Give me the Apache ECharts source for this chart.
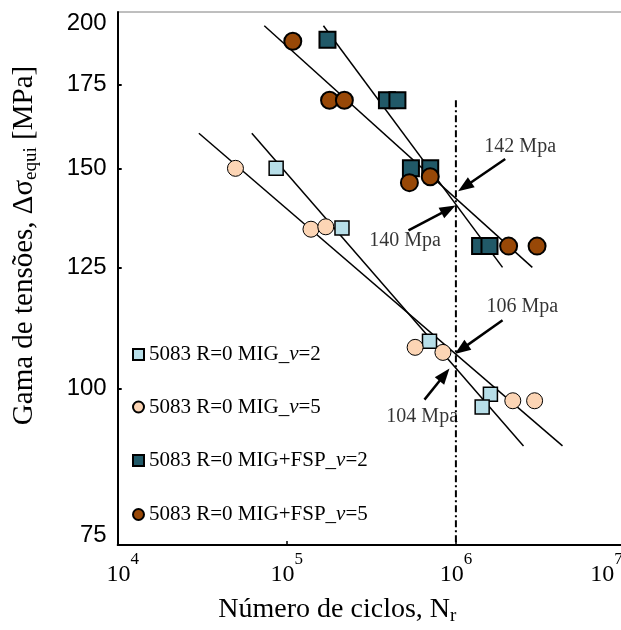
<!DOCTYPE html>
<html><head><meta charset="utf-8">
<script src="https://cdn.jsdelivr.net/npm/echarts@6/dist/echarts.min.js"></script>
<style>html,body{margin:0;padding:0;background:#fff;overflow:hidden}#c{width:625px;height:630px}</style>
</head><body><div id="c"></div><script>
// ---- data (cycles N, stress range MPa) ----
const seriesNames = ['5083 R=0 MIG_ν=2', '5083 R=0 MIG_ν=5', '5083 R=0 MIG+FSP_ν=2', '5083 R=0 MIG+FSP_ν=5'];
const migV2 = [[8.65e4,150],[2.12e5,134.4],[6.98e5,109.1],[1.60e6,99.0],[1.43e6,96.7]];
const migV5 = [[4.97e4,150],[1.39e5,134.1],[1.70e5,134.7],[5.74e5,107.9],[8.38e5,106.9],[2.17e6,97.8],[2.92e6,97.8]];
const fspV2 = [[1.74e5,190],[3.91e5,170],[4.51e5,170],[5.42e5,150],[7.05e5,150],[1.39e6,130],[1.58e6,130]];
const fspV5 = [[1.085e5,189.5],[1.79e5,170],[2.19e5,170],[5.31e5,146.1],[7.05e5,147.7],[2.05e6,130],[3.02e6,130]];
const migV2Fit = [[6.21e4,160],[2.51e6,90]];
const migV5Fit = [[3.02e4,160],[4.27e6,90]];
const fspV2Fit = [[1.647e5,195],[1.887e6,125]];
const fspV5Fit = [[7.36e4,195],[2.83e6,125]];
const refLine = [[1e6,170],[1e6,75]];
const xTicks = [1e4,1e5,1e6,1e7];
const yTicks = [75,100,125,150,175,200];
const yTickMarks = [100,125,150,175];
const annotLabels = ['142 Mpa','140 Mpa','106 Mpa','104 Mpa'];
const annotTextPos = [[2.40e6,156.0],[5.01e5,131.3],[2.47e6,116.2],[6.32e5,94.9]];
const arrowFrom = [[1.957e6,152.6],[5.243e5,133.8],[1.887e6,113.4],[6.52e5,98.0]];
const arrowTo = [[1.127e6,145.0],[9.04e5,139.1],[1.077e6,107.5],[8.56e5,102.6]];

const L = p => [Math.log10(p[0]), Math.log10(p[1])];
const SERIF = 'Liberation Serif';
const SANS = 'Liberation Sans';

const chart = echarts.init(document.getElementById('c'), null, {renderer:'canvas'});

function fitSeries(d){
  return {type:'line', data:d.map(L), symbol:'none', silent:true, z:2,
    lineStyle:{color:'#000', width:1.5}};
}
function markerSeries(name, d, symbol, size, color, bw){
  return {type:'scatter', name:name, data:d.map(L), symbol:symbol, symbolSize:size, z:3,
    itemStyle:{color:color, borderColor:'#000', borderWidth:bw, opacity:1}};
}
const legendRows = [355, 407.5, 461, 515];
const legendRich = {
  n:{fontFamily:SERIF, fontSize:21, color:'#000', lineHeight:22},
  i:{fontFamily:SERIF, fontSize:21, fontStyle:'italic', color:'#000', lineHeight:22}
};
const legends = seriesNames.map((nm, k) => ({
  data:[nm], left:132, top:legendRows[k]-11, orient:'vertical', padding:0,
  itemWidth:11, itemHeight:11, itemGap:0, selectedMode:false,
  textStyle:{fontFamily:SERIF, fontSize:21, color:'#000', rich:legendRich},
  formatter: name => { const parts = name.split('ν'); return '{n|'+parts[0]+'}{i|ν}{n|'+parts[1]+'}'; }
}));

const option = {
  animation:false,
  backgroundColor:'#fff',
  grid:{left:117.7, top:12, right:0, bottom:85, show:true, borderColor:'#7f7f7f', borderWidth:1,
    containLabel:false, outerBoundsMode:'none'},
  legend: legends,
  xAxis:{
    type:'value', min:4, max:7, interval:1,
    axisLine:{lineStyle:{color:'#000', width:2}},
    axisTick:{inside:true, length:4, lineStyle:{color:'#000', width:1.5}},
    splitLine:{show:false},
    axisLabel:{
      margin:6, color:'#000',
      formatter: v => { const e = Math.round(v);
        if (e === 4) return '{b4|10}{s|4}';
        if (e === 7) return '{b|10}{s7|7}';
        return '{b|10}{s|'+e+'}'; },
      rich:{
        b:{fontFamily:SERIF, fontSize:24, verticalAlign:'bottom', padding:[12,0,0,0], color:'#000'},
        b4:{fontFamily:SERIF, fontSize:24, verticalAlign:'bottom', padding:[12,0,0,10], color:'#000'},
        s:{fontFamily:SERIF, fontSize:17, lineHeight:17, verticalAlign:'top', color:'#000'},
        s7:{fontFamily:SERIF, fontSize:17, lineHeight:17, verticalAlign:'top', padding:[0,37,0,0], color:'#000'}
      }
    },
    name:'{n|Número de ciclos, N}{sub|r}{p| }',
    nameLocation:'middle', nameGap:49,
    nameTextStyle:{
      rich:{
        n:{fontFamily:SERIF, fontSize:28, lineHeight:32, color:'#000'},
        sub:{fontFamily:SERIF, fontSize:19, lineHeight:14, verticalAlign:'bottom', color:'#000'},
        p:{fontFamily:SERIF, fontSize:10, width:68}
      }
    }
  },
  yAxis:{
    type:'value', min:Math.log10(75), max:Math.log10(200),
    axisLine:{lineStyle:{color:'#000', width:2}},
    axisTick:{inside:true, length:4, lineStyle:{color:'#000', width:2}, customValues:yTickMarks.map(v=>Math.log10(v))},
    splitLine:{show:false},
    axisLabel:{
      customValues:yTicks.map(v=>Math.log10(v)), margin:11, color:'#000',
      formatter: v => { const val = Math.round(Math.pow(10, v));
        if (val === 200) return '{t|200}';
        if (val === 75) return '{bo|75}';
        return '{d|'+val+'}'; },
      rich:{
        d:{fontFamily:SANS, fontSize:24, color:'#000'},
        t:{fontFamily:SANS, fontSize:24, color:'#000', padding:[22,0,0,0]},
        bo:{fontFamily:SANS, fontSize:24, color:'#000', padding:[0,0,20,0]}
      }
    },
    name:'{p| }{n|Gama de tensões, Δσ}{sub|equi}{n| [MPa]}',
    nameLocation:'middle', nameRotate:90, nameGap:77,
    nameTextStyle:{
      rich:{
        p:{fontFamily:SERIF, fontSize:10, width:66},
        n:{fontFamily:SERIF, fontSize:29, lineHeight:32, color:'#000'},
        sub:{fontFamily:SERIF, fontSize:19, lineHeight:14, verticalAlign:'bottom', color:'#000'}
      }
    }
  },
  series:[
    fitSeries(migV2Fit), fitSeries(migV5Fit), fitSeries(fspV2Fit), fitSeries(fspV5Fit),
    {type:'line', data:refLine.map(L), symbol:'none', silent:true, z:2,
      lineStyle:{color:'#000', width:2, type:[7,3,2,3]},
      markLine:{silent:true, symbol:['none','triangle'], symbolSize:[12,16],
        lineStyle:{color:'#000', width:2.5, type:'solid'}, label:{show:false},
        data: arrowFrom.map((f,k)=>[{coord:L(f)},{coord:L(arrowTo[k])}])}
    },
    markerSeries(seriesNames[0], migV2, 'rect', 14, '#B7DEE8', 1.5),
    markerSeries(seriesNames[1], migV5, 'circle', 16, '#FCD5B5', 1),
    markerSeries(seriesNames[2], fspV2, 'rect', 16, '#215968', 2),
    markerSeries(seriesNames[3], fspV5, 'circle', 17, '#984807', 2),
    {type:'scatter', name:'annot', data:annotTextPos.map(L), symbolSize:1, z:4, silent:true,
      itemStyle:{color:'rgba(0,0,0,0)'},
      label:{show:true, position:'inside', color:'#000', fontFamily:SERIF, fontSize:20,
        formatter: p => annotLabels[p.dataIndex]}}
  ]
};
chart.setOption(option);
</script></body></html>
